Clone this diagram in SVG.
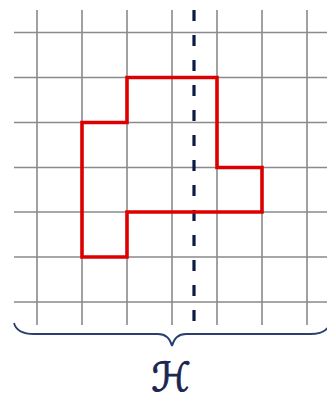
<svg xmlns="http://www.w3.org/2000/svg" width="327" height="399" viewBox="0 0 327 399">
<style>
.grid line{stroke:#8a8a8a;stroke-width:1.6}
.axis{stroke:#0d1a45;stroke-width:3.2;stroke-dasharray:11 14}
.shape{fill:none;stroke:#dd0000;stroke-width:3.6;stroke-linejoin:miter}
.brace{fill:none;stroke:#2a3f6e;stroke-width:1.8}
.label{font-family:"DejaVu Serif","DejaVu Sans",serif;font-size:40px;fill:#1a2550;stroke:#1a2550;stroke-width:0.9}
</style>
<rect width="327" height="399" fill="#ffffff"/>
<g id="grid" class="grid">
<line x1="37" y1="10" x2="37" y2="325"/>
<line x1="82" y1="10" x2="82" y2="325"/>
<line x1="127" y1="10" x2="127" y2="325"/>
<line x1="172" y1="10" x2="172" y2="325"/>
<line x1="217" y1="10" x2="217" y2="325"/>
<line x1="262" y1="10" x2="262" y2="325"/>
<line x1="307" y1="10" x2="307" y2="325"/>
<line x1="14" y1="32.5" x2="327" y2="32.5"/>
<line x1="14" y1="77.5" x2="327" y2="77.5"/>
<line x1="14" y1="122.5" x2="327" y2="122.5"/>
<line x1="14" y1="167.5" x2="327" y2="167.5"/>
<line x1="14" y1="212" x2="327" y2="212"/>
<line x1="14" y1="257" x2="327" y2="257"/>
<line x1="14" y1="302" x2="327" y2="302"/>
</g>
<g id="axis">
<line class="axis" x1="194" y1="10" x2="194" y2="325"/>
</g>
<g id="shape">
<polygon class="shape" points="127,77.5 217,77.5 217,167.5 262,167.5 262,212 127,212 127,257 82,257 82,122.5 127,122.5"/>
</g>
<g id="brace">
<path class="brace" d="M14,323 C16,331 24,334 34,334 L158,334 C166,334 170,338 172,346 C174,338 178,334 186,334 L310,334 C320,334 328,331 330,323"/>
</g>
<g id="label">
<text class="label" x="171" y="391" text-anchor="middle">ℋ</text>
</g>
</svg>
